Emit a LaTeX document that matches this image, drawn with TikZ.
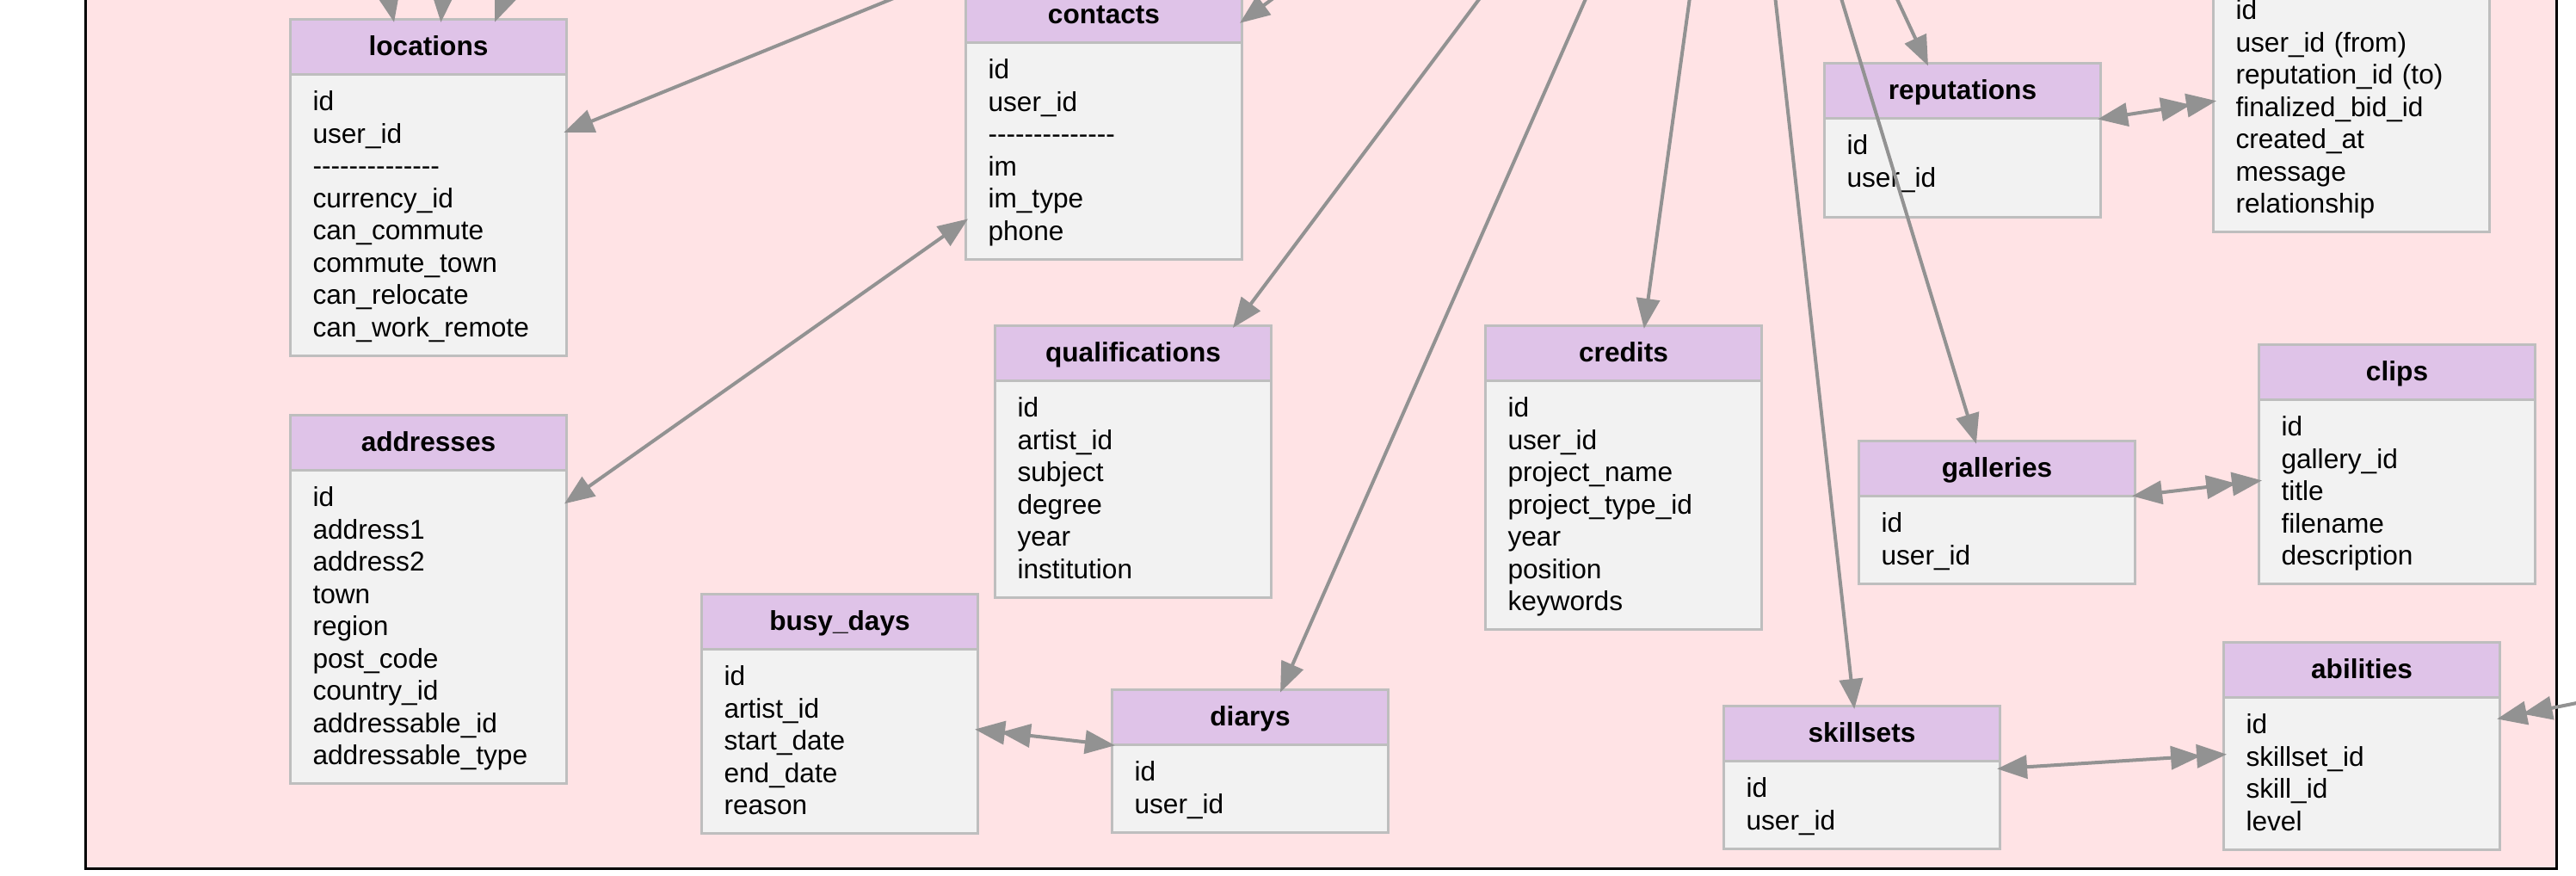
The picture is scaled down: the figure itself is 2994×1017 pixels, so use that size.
\documentclass[tikz,border=0pt]{standalone}
\usepackage{fontspec}
\setmainfont{Liberation Sans}
\usepackage{tikz}
\usetikzlibrary{arrows.meta,shapes.multipart}
\definecolor{bgpink}{RGB}{255,227,229}
\definecolor{hdr}{RGB}{223,195,232}
\definecolor{fld}{RGB}{242,242,242}
\definecolor{boxgray}{RGB}{190,190,190}
\definecolor{arrgray}{RGB}{146,146,146}
\newcommand{\rw}{\rule[-0.85mm]{0pt}{3.7mm}}
\newcommand{\tname}[1]{\rw\hfill\textbf{#1}\hfill\null}
\newcommand{\dashrow}{-{}-{}-{}-{}-{}-{}-{}-{}-{}-{}-{}-{}-{}-}
\tikzset{
  tbl/.style={rectangle split,rectangle split parts=2,draw=boxgray,line width=0.3mm,
    rectangle split part fill={hdr,fld},text width=26.9mm,inner xsep=2.6mm,inner ysep=1.2mm,
    align=left,anchor=north west,font=\fontsize{9pt}{3.75mm}\selectfont},
  rel/.style={color=arrgray,line width=0.4mm},
  >={Triangle[length=3.5mm,width=2.7mm,sep=-0.5mm]}
}

\begin{document}
\begin{tikzpicture}[x=0.1mm,y=-0.1mm]
\useasboundingbox (0,0) rectangle (2994,1017);
\fill[white] (0,0) rectangle (2994,1017);
\clip (0,0) rectangle (2994,1017);
\draw[black,line width=0.3mm,fill=bgpink] (99,-700) rectangle (2971,1009);
%
\node (loc) [tbl] at (336,21) {\tname{locations}\nodepart{two}\rw id\\ user\_id\\ \dashrow\\ currency\_id\\ can\_commute\\ commute\_town\\ can\_relocate\\ can\_work\_remote\rw};
\node (addr) [tbl] at (336,481) {\tname{addresses}\nodepart{two}\rw id\\ address1\\ address2\\ town\\ region\\ post\_code\\ country\_id\\ addressable\_id\\ addressable\_type\rw};
\node (cont) [tbl] at (1121,-16) {\tname{contacts}\nodepart{two}\rw id\\ user\_id\\ \dashrow\\ im\\ im\_type\\ phone\rw};
\node (qual) [tbl] at (1155,377) {\tname{qualifications}\nodepart{two}\rw id\\ artist\_id\\ subject\\ degree\\ year\\ institution\rw};
\node (cred) [tbl] at (1725,377) {\tname{credits}\nodepart{two}\rw id\\ user\_id\\ project\_name\\ project\_type\_id\\ year\\ position\\ keywords\rw};
\node (busy) [tbl] at (814,689) {\tname{busy\_days}\nodepart{two}\rw id\\ artist\_id\\ start\_date\\ end\_date\\ reason\rw};
\node (diary) [tbl] at (1291,800) {\tname{diarys}\nodepart{two}\rw id\\ user\_id\rw};
%
\node (rep) [tbl] at (2119,72) {\tname{reputations}\nodepart{two}\rw id\\ user\_id\rule[-2.15mm]{0pt}{0pt}};
\node (fb) [tbl] at (2571,-85) {\tname{}\nodepart{two}\rw id\\ user\_id (from)\\ reputation\_id (to)\\ finalized\_bid\_id\\ created\_at\\ message\\ relationship\rw};
\node (gal) [tbl] at (2159,511) {\tname{galleries}\nodepart{two}\rw id\\ user\_id\rw};
\node (clip) [tbl] at (2624,399) {\tname{clips}\nodepart{two}\rw id\\ gallery\_id\\ title\\ filename\\ description\rw};
\node (skset) [tbl] at (2002,819) {\tname{skillsets}\nodepart{two}\rw id\\ user\_id\rw};
\node (abil) [tbl] at (2583,745) {\tname{abilities}\nodepart{two}\rw id\\ skillset\_id\\ skill\_id\\ level\rw};
%
\coordinate (usr) at (2019,-401);
\coordinate (up1) at (390,-300);
\coordinate (up2) at (537,-300);
\coordinate (up3) at (706,-300);
\coordinate (rgt) at (3100,796);
%
\path[->,rel] (up1) edge (loc);
\path[->,rel] (up2) edge (loc);
\path[->,rel] (up3) edge (loc);
\path[->,rel] (usr) edge (loc);
\path[->,rel] (usr) edge (cont);
\path[->,rel] (usr) edge (qual);
\path[->,rel] (usr) edge (diary);
\path[->,rel] (usr) edge (cred);
\path[->,rel] (usr) edge (skset);
\path[->,rel] (usr) edge (gal);
\path[->,rel] (usr) edge (rep);
%
\path[<->,rel] (cont) edge (addr);
\path[<<->,rel] (busy) edge (diary);
\path[<->>,rel] (rep) edge (fb);
\path[<->>,rel] (gal) edge (clip);
\path[<->>,rel] (skset) edge (abil);
\path[->>,rel] (rgt) edge (abil);
\end{tikzpicture}
\end{document}
